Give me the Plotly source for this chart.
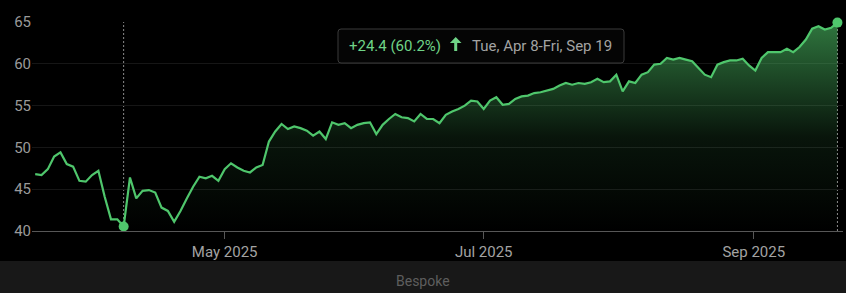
import plotly.graph_objects as go
import pandas as pd
import numpy as np

# ---------------- data ----------------
start_date = "2025-03-19"
end_date = "2025-09-19"
market_holidays = ["2025-04-18", "2025-05-26", "2025-06-19", "2025-07-04", "2025-09-01"]
dates = [d for d in pd.bdate_range(start_date, end_date)
         if d.strftime("%Y-%m-%d") not in market_holidays]

values = [
    46.8, 46.7, 47.4, 48.9, 49.4, 48.0, 47.7, 46.0, 45.9, 46.7, 47.2, 44.1, 41.4, 41.4,
    40.53,
    46.4, 43.9, 44.8, 44.9, 44.6, 42.8, 42.4, 41.1, 42.4, 43.9, 45.3,
    46.5, 46.3, 46.6, 46.0, 47.4, 48.1, 47.6, 47.2, 47.0, 47.6, 47.9, 50.7, 51.9, 52.8,
    52.2, 52.5, 52.3, 52.0, 51.4, 51.9, 51.0, 53.0, 52.7, 52.9, 52.3,
    52.7, 52.9, 53.0, 51.6, 52.7, 53.4, 54.0, 53.6, 53.5, 53.1, 54.0, 53.4, 53.4, 52.9,
    53.9, 54.3, 54.6, 55.0, 55.6, 55.5, 54.6, 55.6, 56.0, 55.1, 55.2,
    55.8, 56.1, 56.2, 56.5, 56.6, 56.8, 57.0, 57.4, 57.7, 57.5, 57.7, 57.6, 57.8, 58.2,
    57.8, 57.9, 58.7, 56.7, 57.9, 57.7, 58.7, 59.0, 59.9, 60.0, 60.7,
    60.5, 60.7, 60.5, 60.3, 59.5, 58.7, 58.4, 59.9, 60.2, 60.4, 60.4, 60.6, 59.8, 59.2,
    60.7, 61.4, 61.4, 61.4, 61.8, 61.4, 62.0, 62.9, 64.2, 64.5, 64.1, 64.3, 64.93,
]

selection_start = "2025-04-08"
tick_months = ["2025-05-01", "2025-07-01", "2025-09-01"]
tick_labels = ["May 2025", "Jul 2025", "Sep 2025"]
y_ticks = [40, 45, 50, 55, 60, 65]
footer_text = "Bespoke"

# ---------------- style / geometry ----------------
W, H = 846, 293
PL, PR, PT, PB = 32, 843, 22, 231
LINE = "#4fc66c"
GREEN_TXT = "#6fd487"
GRAY_TXT = "#a3a3a3"
FONT = "Roboto"

def fx(p):
    return (p - PL) / (PR - PL)

def fy(p):
    return (PB - p) / (PB - PT)

idx = np.arange(len(dates))
ts = np.array([d.value for d in dates], dtype=float)
tickvals = [float(np.interp(pd.Timestamp(m).value, ts, idx)) for m in tick_months]
i0 = [d.strftime("%Y-%m-%d") for d in dates].index(selection_start)
i1 = len(dates) - 1

chg = values[i1] - values[i0]
pct = chg / values[i0] * 100
d0, d1 = dates[i0], dates[i1]
date_txt = f"{d0.strftime('%a, %b')} {d0.day}-{d1.strftime('%a, %b')} {d1.day}"
chg_txt = f"{'+' if chg >= 0 else ''}{chg:.1f} ({pct:.1f}%)"

fig = go.Figure()

# gradient fill for selected range
fig.add_trace(go.Scatter(
    x=idx[i0:], y=values[i0:], mode="lines", line=dict(width=0, color=LINE),
    fill="tozeroy",
    fillgradient=dict(type="vertical", start=40, stop=65,
                      colorscale=[[0, "rgba(76,190,100,0)"],
                                  [0.45, "rgba(76,190,100,0.11)"],
                                  [1, "rgba(76,190,100,0.62)"]]),
    hoverinfo="skip", showlegend=False))

# main line
fig.add_trace(go.Scatter(
    x=idx, y=values, mode="lines", line=dict(width=2.2, color=LINE),
    hoverinfo="skip", showlegend=False))

# endpoint markers
fig.add_trace(go.Scatter(
    x=[idx[i0], idx[i1]], y=[values[i0], values[i1]], mode="markers",
    marker=dict(size=10, color=LINE), cliponaxis=False,
    hoverinfo="skip", showlegend=False))

shapes = []
for i in (i0, i1):
    shapes.append(dict(type="line", xref="x", yref="paper", x0=idx[i], x1=idx[i], y0=0, y1=1,
                       line=dict(color="#8a8a8a", width=1, dash="2px,2px"), layer="below"))

# footer band
shapes.append(dict(type="rect", xref="paper", yref="paper",
                   x0=fx(0), x1=fx(W), y0=fy(H), y1=fy(261),
                   fillcolor="#181818", line=dict(width=0), layer="below"))

# tooltip box (rounded)
bx0, bx1, by0, by1, r = 338, 624, 29, 63, 3
path = (f"M {fx(bx0+r)} {fy(by0)} L {fx(bx1-r)} {fy(by0)} Q {fx(bx1)} {fy(by0)} {fx(bx1)} {fy(by0+r)} "
        f"L {fx(bx1)} {fy(by1-r)} Q {fx(bx1)} {fy(by1)} {fx(bx1-r)} {fy(by1)} "
        f"L {fx(bx0+r)} {fy(by1)} Q {fx(bx0)} {fy(by1)} {fx(bx0)} {fy(by1-r)} "
        f"L {fx(bx0)} {fy(by0+r)} Q {fx(bx0)} {fy(by0)} {fx(bx0+r)} {fy(by0)} Z")
shapes.append(dict(type="path", xref="paper", yref="paper", path=path,
                   fillcolor="#050505", line=dict(color="#3a3a3a", width=1), layer="above"))

# arrow in tooltip
ax = 455.7
arrow = (f"M {fx(ax-5.8)} {fy(43)} L {fx(ax)} {fy(37)} L {fx(ax+5.8)} {fy(43)} "
         f"L {fx(ax+1.5)} {fy(43)} L {fx(ax+1.5)} {fy(51)} L {fx(ax-1.5)} {fy(51)} "
         f"L {fx(ax-1.5)} {fy(43)} Z")
shapes.append(dict(type="path", xref="paper", yref="paper", path=arrow,
                   fillcolor=GREEN_TXT, line=dict(width=0), layer="above"))

annotations = [
    dict(text=chg_txt, xref="paper", yref="paper", x=fx(347), y=fy(46),
         xanchor="left", yanchor="middle", showarrow=False,
         font=dict(family=FONT, size=15, color=GREEN_TXT)),
    dict(text=date_txt, xref="paper", yref="paper", x=fx(470), y=fy(46),
         xanchor="left", yanchor="middle", showarrow=False,
         font=dict(family=FONT, size=15, color=GRAY_TXT)),
    dict(text=footer_text, xref="paper", yref="paper", x=fx(W / 2), y=fy(280.5),
         xanchor="center", yanchor="middle", showarrow=False,
         font=dict(family=FONT, size=14, color="#5e5e5e")),
]

fig.update_layout(
    width=W, height=H,
    margin=dict(l=PL, r=W - PR, t=PT, b=H - PB, pad=0),
    paper_bgcolor="#000000", plot_bgcolor="#000000",
    font=dict(family=FONT, size=15, color=GRAY_TXT),
    shapes=shapes, annotations=annotations,
    hovermode=False,
    xaxis=dict(range=[-0.507, 127.88], tickvals=tickvals, ticktext=tick_labels,
               showgrid=False, zeroline=False, showline=True, linecolor="#575757",
               linewidth=1, ticks="outside", ticklen=7, tickcolor="#575757",
               tickfont=dict(family=FONT, size=15, color=GRAY_TXT)),
    yaxis=dict(range=[40, 65], tickvals=y_ticks, showgrid=True, gridcolor="#161616",
               gridwidth=1, zeroline=False, showline=False, ticks="",
               tickfont=dict(family=FONT, size=15, color="#9a9a9a")),
)

fig.write_html("out.html", config={"displayModeBar": False})
